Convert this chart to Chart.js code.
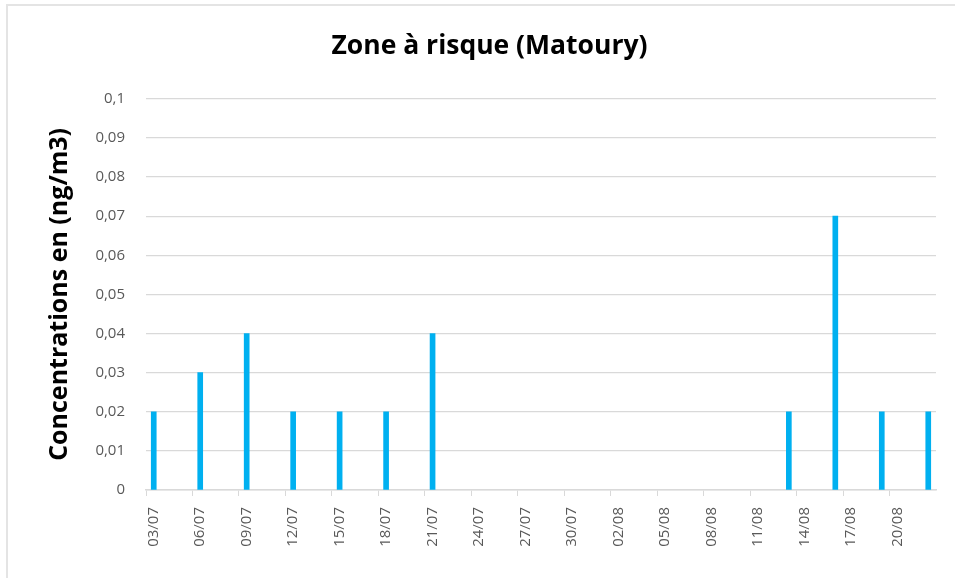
<!DOCTYPE html>
<html>
<head>
<meta charset="utf-8">
<script src="https://cdn.jsdelivr.net/npm/chart.js@4.4.1/dist/chart.umd.min.js"></script>
<style>
  html, body { margin: 0; padding: 0; background: #fff; overflow: hidden; }
  #frame { position: absolute; left: 6px; top: 4px; width: 1000px; height: 640px; border: 2px solid #e4e4e4; }
  #wrap { position: absolute; left: 0; top: 0; width: 955px; height: 578px; }
</style>
</head>
<body>
<div id="frame"></div>
<div id="wrap"><canvas id="chart" width="955" height="578"></canvas></div>
<script>
  const days = [
    "03/07", "04/07", "05/07", "06/07", "07/07", "08/07", "09/07", "10/07", "11/07",
    "12/07", "13/07", "14/07", "15/07", "16/07", "17/07", "18/07", "19/07", "20/07",
    "21/07", "22/07", "23/07", "24/07", "25/07", "26/07", "27/07", "28/07", "29/07",
    "30/07", "31/07", "01/08", "02/08", "03/08", "04/08", "05/08", "06/08", "07/08",
    "08/08", "09/08", "10/08", "11/08", "12/08", "13/08", "14/08", "15/08", "16/08",
    "17/08", "18/08", "19/08", "20/08", "21/08", "22/08",
  ];
  const sampleDays = [
    "03/07", "06/07", "09/07", "12/07", "15/07", "18/07", "21/07",
    "13/08", "16/08", "19/08", "22/08",
  ];
  const concentrations = [0.02, 0.03, 0.04, 0.02, 0.02, 0.02, 0.04, 0.02, 0.07, 0.02, 0.02];
  const yTicks = [0, 0.01, 0.02, 0.03, 0.04, 0.05, 0.06, 0.07, 0.08, 0.09, 0.1];

  const barValues = days.map((d) => {
    const i = sampleDays.indexOf(d);
    return i >= 0 ? concentrations[i] : null;
  });

  const fontFamily = "'Open Sans', Lato, sans-serif";
  const gridColor = "#d9d9d9";
  const textColor = "#595959";

  const ctx = document.getElementById("chart").getContext("2d");

  new Chart(ctx, {
    type: "bar",
    data: {
      labels: days,
      datasets: [
        {
          data: barValues,
          backgroundColor: "#00b0f0",
          barThickness: 5,
        },
      ],
    },
    options: {
      responsive: false,
      animation: false,
      layout: { padding: { left: 43, right: 19, top: 0, bottom: 0 } },
      plugins: {
        legend: { display: false },
        tooltip: { enabled: false },
        title: {
          display: true,
          text: "Zone à risque (Matoury)",
          color: "#000",
          font: { family: fontFamily, size: 26.5, weight: "bold" },
          padding: { top: 31, bottom: 36 },
        },
      },
      scales: {
        x: {
          offset: true,
          afterFit: (scale) => {
            scale.height = 88;
            scale.paddingLeft = 0;
            scale.paddingRight = 0;
          },
          grid: {
            offset: true,
            drawOnChartArea: false,
            drawTicks: true,
            tickLength: 6,
            color: (c) => (c.index % 3 === 0 ? gridColor : "rgba(0,0,0,0)"),
          },
          border: { color: gridColor, width: 1.5 },
          ticks: {
            autoSkip: false,
            minRotation: 90,
            maxRotation: 90,
            padding: 11,
            color: textColor,
            font: { family: fontFamily, size: 15 },
            callback: (value, index) => (index % 3 === 0 ? days[index] : ""),
          },
        },
        y: {
          min: 0,
          max: 0.1,
          afterFit: (scale) => {
            scale.width = 103;
          },
          afterBuildTicks: (scale) => {
            scale.ticks = yTicks.map((v) => ({ value: v }));
          },
          grid: { color: gridColor, lineWidth: 1.2, drawTicks: false },
          border: { display: false },
          ticks: {
            padding: 21,
            color: textColor,
            font: { family: fontFamily, size: 15 },
            callback: (value) => String(Math.round(value * 100) / 100).replace(".", ","),
          },
          title: {
            display: true,
            text: "Concentrations en (ng/m3)",
            color: "#000",
            font: { family: fontFamily, size: 25, weight: "bold" },
            padding: 2,
          },
        },
      },
    },
  });
</script>
</body>
</html>
